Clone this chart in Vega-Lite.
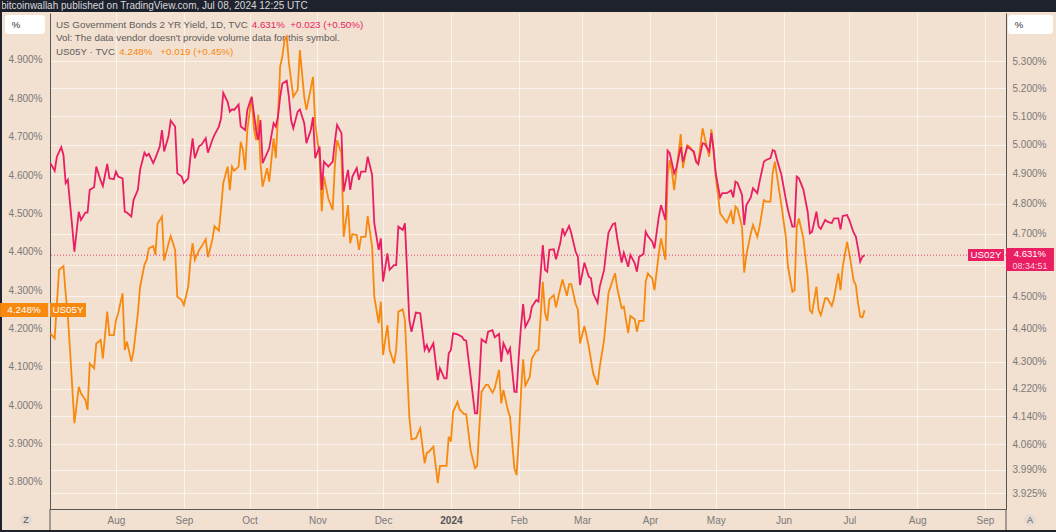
{
"$schema":"https://vega.github.io/schema/vega-lite/v6.json",
"width":956,"height":496,
"autosize":{"type":"none"},
"padding":{"left":50,"top":13,"right":50,"bottom":23},
"background":"#f2e0d0",
"config":{"view":{"stroke":null,"fill":"#f2e0d0"},"font":"Liberation Sans","text":{"font":"Liberation Sans"}},
"datasets":{"y":[
{"d":"2023-07-02","p":4.937,"o":4.188},{"d":"2023-07-04","p":4.911,"o":4.174},{"d":"2023-07-05","p":4.959,"o":4.266},{"d":"2023-07-06","o":4.353},{"d":"2023-07-07","p":4.992},{"d":"2023-07-08","p":4.965,"o":4.363},{"d":"2023-07-09","p":4.869,"o":4.292},{"d":"2023-07-10","p":4.880,"o":4.231},{"d":"2023-07-11","p":4.801,"o":4.144},{"d":"2023-07-12","p":4.724,"o":4.048},{"d":"2023-07-13","p":4.642,"o":3.953},{"d":"2023-07-15","p":4.773,"o":4.048},{"d":"2023-07-16","p":4.746,"o":4.031},{"d":"2023-07-18","p":4.770,"o":4.014},{"d":"2023-07-19","p":4.770,"o":3.988},{"d":"2023-07-20","p":4.846,"o":4.109},{"d":"2023-07-22","p":4.855,"o":4.096},{"d":"2023-07-23","p":4.925,"o":4.161},{"d":"2023-07-25","p":4.877,"o":4.170},{"d":"2023-07-26","p":4.859,"o":4.122},{"d":"2023-07-28","p":4.934,"o":4.244},{"d":"2023-07-29","p":4.885,"o":4.183},{"d":"2023-07-31","p":4.882,"o":4.183},
{"d":"2023-08-01","p":4.908,"o":4.222},{"d":"2023-08-02","p":4.891,"o":4.240},{"d":"2023-08-04","p":4.885,"o":4.292},{"d":"2023-08-05","p":4.773,"o":4.144},{"d":"2023-08-06","p":4.770,"o":4.166},{"d":"2023-08-08","p":4.757,"o":4.114},{"d":"2023-08-09","p":4.812,"o":4.140},{"d":"2023-08-11","p":4.846,"o":4.240},{"d":"2023-08-12","p":4.914,"o":4.309},{"d":"2023-08-14","p":4.973,"o":4.366},{"d":"2023-08-15","p":4.962,"o":4.379},{"d":"2023-08-16","p":4.969,"o":4.409},{"d":"2023-08-18","p":4.937,"o":4.415},{"d":"2023-08-19","p":4.954,"o":4.392},{"d":"2023-08-20","o":4.474},{"d":"2023-08-21","p":4.994},{"d":"2023-08-22","p":5.052,"o":4.492},{"d":"2023-08-23","p":4.977,"o":4.377},{"d":"2023-08-25","p":5.031,"o":4.422},{"d":"2023-08-26","p":5.085,"o":4.441},{"d":"2023-08-28","p":5.064,"o":4.405},{"d":"2023-08-29","p":4.902,"o":4.283},{"d":"2023-08-31","p":4.891,"o":4.274},
{"d":"2023-09-01","p":4.869,"o":4.261},{"d":"2023-09-03","p":4.885,"o":4.309},{"d":"2023-09-04","p":4.959,"o":4.379},{"d":"2023-09-05","p":5.023,"o":4.422},{"d":"2023-09-06","p":4.954,"o":4.379},{"d":"2023-09-08","p":4.996,"o":4.405},{"d":"2023-09-09","p":5.000,"o":4.413},{"d":"2023-09-11","p":5.023,"o":4.433},{"d":"2023-09-12","p":4.973,"o":4.386},{"d":"2023-09-14","p":5.017,"o":4.431},{"d":"2023-09-15","p":5.035,"o":4.467},{"d":"2023-09-17","p":5.064,"o":4.455},{"d":"2023-09-18","p":5.093,"o":4.513},{"d":"2023-09-19","p":5.184,"o":4.579},{"d":"2023-09-21","p":5.152,"o":4.622},{"d":"2023-09-22","p":5.117,"o":4.561},{"d":"2023-09-23","p":5.125,"o":4.622},{"d":"2023-09-24","p":5.123,"o":4.611},{"d":"2023-09-26","p":5.142,"o":4.622},{"d":"2023-09-27","p":5.064,"o":4.687},{"d":"2023-09-28","o":4.665},{"d":"2023-09-29","p":5.052,"o":4.613},{"d":"2023-09-30","p":5.123,"o":4.718},
{"d":"2023-10-02","p":5.170,"o":4.804},{"d":"2023-10-03","o":4.722},{"d":"2023-10-04","p":5.052,"o":4.691},{"d":"2023-10-05","p":5.017,"o":4.757},{"d":"2023-10-06","p":5.087,"o":4.631},{"d":"2023-10-07","p":4.937,"o":4.570},{"d":"2023-10-09","p":4.971,"o":4.618},{"d":"2023-10-10","p":4.988,"o":4.583},{"d":"2023-10-12","p":5.076,"o":4.696},{"d":"2023-10-13","p":5.064,"o":4.644},{"d":"2023-10-14","p":5.099,"o":4.752},{"d":"2023-10-15","p":5.170,"o":4.883},{"d":"2023-10-16","p":5.218,"o":4.909},{"d":"2023-10-17","o":4.952},{"d":"2023-10-18","p":5.228,"o":4.961},{"d":"2023-10-19","p":5.170,"o":4.891},{"d":"2023-10-20","p":5.087,"o":4.848},{"d":"2023-10-21","p":5.058,"o":4.804},{"d":"2023-10-23","p":5.117,"o":4.822},{"d":"2023-10-24","p":5.125,"o":4.926},{"d":"2023-10-26","p":5.076,"o":4.804},{"d":"2023-10-27","p":5.006,"o":4.770},{"d":"2023-10-29","p":5.052,"o":4.826},{"d":"2023-10-30","p":5.097,"o":4.856},{"d":"2023-10-31","p":4.954,"o":4.735},
{"d":"2023-11-02","p":4.994,"o":4.648},{"d":"2023-11-03","p":4.846,"o":4.505},{"d":"2023-11-04","p":4.942,"o":4.596},{"d":"2023-11-06","p":4.925,"o":4.539},{"d":"2023-11-08","p":4.942,"o":4.509},{"d":"2023-11-09","p":5.011,"o":4.626},{"d":"2023-11-10","p":5.070,"o":4.691},{"d":"2023-11-12","p":5.041,"o":4.657},{"d":"2023-11-13","p":4.840,"o":4.439},{"d":"2023-11-15","p":4.914,"o":4.522},{"d":"2023-11-16","p":4.846,"o":4.422},{"d":"2023-11-17","p":4.891,"o":4.446},{"d":"2023-11-19","p":4.920,"o":4.444},{"d":"2023-11-20","p":4.880,"o":4.405},{"d":"2023-11-21","p":4.908,"o":4.439},{"d":"2023-11-23","p":4.908,"o":4.439},{"d":"2023-11-24","p":4.959,"o":4.493},{"d":"2023-11-26","p":4.897,"o":4.413},{"d":"2023-11-27","p":4.735,"o":4.283},{"d":"2023-11-29","p":4.648,"o":4.214},{"d":"2023-11-30","p":4.685,"o":4.270},
{"d":"2023-12-01","p":4.547,"o":4.131},{"d":"2023-12-03","p":4.637,"o":4.209},{"d":"2023-12-04","p":4.584,"o":4.144},{"d":"2023-12-06","p":4.599,"o":4.109},{"d":"2023-12-07","p":4.599,"o":4.144},{"d":"2023-12-08","p":4.724,"o":4.244},{"d":"2023-12-10","p":4.713,"o":4.250},{"d":"2023-12-11","p":4.735,"o":4.222},{"d":"2023-12-13","p":4.427,"o":3.970},{"d":"2023-12-14","p":4.391,"o":3.911},{"d":"2023-12-16","p":4.450,"o":3.914},{"d":"2023-12-18","p":4.448,"o":3.940},{"d":"2023-12-20","p":4.336,"o":3.849},{"d":"2023-12-21","p":4.351,"o":3.876},{"d":"2023-12-22","p":4.331,"o":3.879},{"d":"2023-12-24","p":4.356,"o":3.892},{"d":"2023-12-26","p":4.246,"o":3.797},{"d":"2023-12-27","p":4.281,"o":3.842},{"d":"2023-12-29","p":4.251,"o":3.842},{"d":"2023-12-30","p":4.251,"o":3.842},{"d":"2023-12-31","p":4.326,"o":3.918},
{"d":"2024-01-01","p":4.336,"o":3.905},{"d":"2024-01-02","p":4.386,"o":3.983},{"d":"2024-01-04","p":4.383,"o":4.009},{"d":"2024-01-05","o":3.989},{"d":"2024-01-06","p":4.376},{"d":"2024-01-07","p":4.366,"o":3.977},{"d":"2024-01-08","p":4.364,"o":3.977},{"d":"2024-01-10","p":4.256,"o":3.883},{"d":"2024-01-12","p":4.149,"o":3.836},{"d":"2024-01-13","p":4.149,"o":3.842},{"d":"2024-01-14","p":4.246,"o":3.944},{"d":"2024-01-15","p":4.368,"o":4.035},{"d":"2024-01-17","p":4.358,"o":4.053},{"d":"2024-01-18","p":4.391,"o":4.053},{"d":"2024-01-20","p":4.396,"o":4.033},{"d":"2024-01-21","p":4.374,"o":4.044},{"d":"2024-01-23","p":4.384,"o":4.092},{"d":"2024-01-24","p":4.300,"o":4.005},{"d":"2024-01-25","p":4.356,"o":4.040},{"d":"2024-01-27","p":4.326,"o":3.988},{"d":"2024-01-28","p":4.341,"o":3.970},{"d":"2024-01-30","p":4.212,"o":3.836},{"d":"2024-01-31","p":4.211,"o":3.818},
{"d":"2024-02-01","p":4.315,"o":3.909},{"d":"2024-02-02","p":4.406,"o":4.031},{"d":"2024-02-03","p":4.476,"o":4.120},{"d":"2024-02-04","p":4.406,"o":4.051},{"d":"2024-02-06","p":4.432,"o":4.074},{"d":"2024-02-07","p":4.468,"o":4.122},{"d":"2024-02-09","p":4.489,"o":4.142},{"d":"2024-02-10","p":4.484,"o":4.144},{"d":"2024-02-11","p":4.573},{"d":"2024-02-12","p":4.664,"o":4.322},{"d":"2024-02-13","p":4.584,"o":4.240},{"d":"2024-02-14","p":4.578,"o":4.220},{"d":"2024-02-15","p":4.648,"o":4.276},{"d":"2024-02-17","p":4.650,"o":4.287},{"d":"2024-02-18","p":4.618,"o":4.255},{"d":"2024-02-20","p":4.671,"o":4.305},{"d":"2024-02-21","p":4.718,"o":4.328},{"d":"2024-02-22","p":4.696},{"d":"2024-02-23","o":4.285},{"d":"2024-02-24","p":4.726,"o":4.316},{"d":"2024-02-25","p":4.702,"o":4.316},{"d":"2024-02-27","p":4.642,"o":4.264},{"d":"2024-02-28","p":4.626,"o":4.250},{"d":"2024-02-29","p":4.536,"o":4.161},
{"d":"2024-03-02","p":4.607,"o":4.207},{"d":"2024-03-04","p":4.562,"o":4.153},{"d":"2024-03-05","p":4.557,"o":4.118},{"d":"2024-03-06","p":4.510,"o":4.083},{"d":"2024-03-08","p":4.480,"o":4.053},{"d":"2024-03-09","p":4.531,"o":4.100},{"d":"2024-03-11","p":4.584,"o":4.172},{"d":"2024-03-12","p":4.648,"o":4.231},{"d":"2024-03-13","p":4.704,"o":4.293},{"d":"2024-03-15","p":4.732,"o":4.328},{"d":"2024-03-16","p":4.735,"o":4.344},{"d":"2024-03-17","p":4.685,"o":4.305},{"d":"2024-03-19","p":4.607,"o":4.253},{"d":"2024-03-20","p":4.639,"o":4.257},{"d":"2024-03-22","p":4.594,"o":4.188},{"d":"2024-03-23","p":4.632,"o":4.233},{"d":"2024-03-25","p":4.605,"o":4.224},{"d":"2024-03-26","p":4.578,"o":4.192},{"d":"2024-03-27","p":4.626,"o":4.220},{"d":"2024-03-29","p":4.635,"o":4.220},{"d":"2024-03-30","p":4.707,"o":4.322},{"d":"2024-03-31","p":4.693,"o":4.344},
{"d":"2024-04-02","p":4.675,"o":4.331},{"d":"2024-04-03","p":4.653,"o":4.300},{"d":"2024-04-05","p":4.757,"o":4.396},{"d":"2024-04-06","p":4.795,"o":4.435},{"d":"2024-04-08","p":4.746,"o":4.379},{"d":"2024-04-09","p":4.980,"o":4.596},{"d":"2024-04-10","p":4.971,"o":4.639},{"d":"2024-04-11","p":4.937,"o":4.609},{"d":"2024-04-12","p":4.902,"o":4.561},{"d":"2024-04-13","p":4.920,"o":4.609},{"d":"2024-04-15","p":4.992,"o":4.707},{"d":"2024-04-16","p":4.942,"o":4.618},{"d":"2024-04-18","p":4.994,"o":4.678},{"d":"2024-04-19","p":4.988,"o":4.674},{"d":"2024-04-21","p":4.977,"o":4.658},{"d":"2024-04-22","p":4.942,"o":4.635},{"d":"2024-04-23","p":4.933,"o":4.631},{"d":"2024-04-25","p":5.006,"o":4.722},{"d":"2024-04-26","p":5.003,"o":4.696},{"d":"2024-04-28","p":4.977,"o":4.648},{"d":"2024-04-29","p":5.041,"o":4.719},{"d":"2024-04-30","p":4.982,"o":4.665},
{"d":"2024-05-01","p":4.902,"o":4.596},{"d":"2024-05-03","p":4.821,"o":4.500},{"d":"2024-05-04","p":4.835,"o":4.492},{"d":"2024-05-06","p":4.835,"o":4.476},{"d":"2024-05-08","p":4.844,"o":4.505},{"d":"2024-05-09","p":4.821,"o":4.472},{"d":"2024-05-10","p":4.874,"o":4.518},{"d":"2024-05-11","p":4.869,"o":4.511},{"d":"2024-05-13","p":4.829,"o":4.465},{"d":"2024-05-14","p":4.729,"o":4.346},{"d":"2024-05-15","p":4.795,"o":4.392},{"d":"2024-05-17","p":4.821,"o":4.448},{"d":"2024-05-18","p":4.852,"o":4.470},{"d":"2024-05-20","p":4.835,"o":4.439},{"d":"2024-05-21","p":4.874,"o":4.465},{"d":"2024-05-23","p":4.942,"o":4.535},{"d":"2024-05-24","p":4.948,"o":4.531},{"d":"2024-05-26","p":4.954,"o":4.531},{"d":"2024-05-27","p":4.982,"o":4.605},{"d":"2024-05-28","p":4.978,"o":4.635},{"d":"2024-05-29","p":4.948,"o":4.596},{"d":"2024-05-31","p":4.897,"o":4.522},
{"d":"2024-06-02","p":4.815,"o":4.439},{"d":"2024-06-03","p":4.779,"o":4.361},{"d":"2024-06-05","p":4.724,"o":4.296},{"d":"2024-06-06","p":4.724,"o":4.300},{"d":"2024-06-07","p":4.891,"o":4.465},{"d":"2024-06-08","p":4.885,"o":4.487},{"d":"2024-06-10","p":4.848,"o":4.435},{"d":"2024-06-12","p":4.773,"o":4.335},{"d":"2024-06-13","p":4.702,"o":4.248},{"d":"2024-06-14","p":4.707,"o":4.241},{"d":"2024-06-16","p":4.773,"o":4.309},{"d":"2024-06-17","p":4.724,"o":4.248},{"d":"2024-06-18","p":4.716,"o":4.235},{"d":"2024-06-20","p":4.746,"o":4.279},{"d":"2024-06-21","p":4.740,"o":4.279},{"d":"2024-06-23","p":4.735,"o":4.259},{"d":"2024-06-24","p":4.751,"o":4.279},{"d":"2024-06-26","p":4.751,"o":4.344},{"d":"2024-06-27","p":4.715,"o":4.300},{"d":"2024-06-28","p":4.759,"o":4.361},{"d":"2024-06-30","p":4.762,"o":4.426},
{"d":"2024-07-01","p":4.746,"o":4.396},{"d":"2024-07-03","p":4.704,"o":4.325},{"d":"2024-07-04","p":4.691,"o":4.313},{"d":"2024-07-05","p":4.653,"o":4.266},{"d":"2024-07-06","p":4.610,"o":4.231},{"d":"2024-07-07","p":4.626,"o":4.229},{"d":"2024-07-08","p":4.631,"o":4.248}
]},
"layer":[
{"layer":[
{"data":{"values":[{}]},"mark":{"type":"rect","color":"#1e222d"},"encoding":{"x":{"datum":{"year":2023,"month":6,"date":8,"utc":true},"type":"temporal"},"x2":{"datum":{"year":2024,"month":10,"date":5,"utc":true}},"y":{"datum":5.07,"type":"quantitative"},"y2":{"datum":5.0251}}},
{"data":{"values":[{}]},"mark":{"type":"text","text":"bitcoinwallah published on TradingView.com, Jul 08, 2024 12:25 UTC","color":"#d8d8dc","fontSize":10,"align":"left","baseline":"middle"},"encoding":{"x":{"datum":{"year":2023,"month":6,"date":9,"hours":11,"utc":true},"type":"temporal"},"y":{"datum":5.0408,"type":"quantitative"}}},
{"data":{"values":[{}]},"mark":{"type":"rect","color":"#1e222d"},"encoding":{"x":{"datum":{"year":2023,"month":6,"date":8,"utc":true},"type":"temporal"},"x2":{"datum":{"year":2023,"month":6,"date":9,"hours":22,"utc":true}},"y":{"datum":5.07,"type":"quantitative"},"y2":{"datum":3.66}}},
{"data":{"values":[{}]},"mark":{"type":"rect","color":"#1e222d"},"encoding":{"x":{"datum":{"year":2023,"month":6,"date":8,"utc":true},"type":"temporal"},"x2":{"datum":{"year":2024,"month":10,"date":5,"utc":true}},"y":{"datum":3.6748,"type":"quantitative"},"y2":{"datum":3.66}}},
{"data":{"values":[{}]},"mark":{"type":"rule","color":"#555555","strokeWidth":1},"encoding":{"x":{"datum":{"year":2023,"month":7,"date":1,"hours":20,"minutes":24,"utc":true},"type":"temporal"},"y":{"datum":3.7296,"type":"quantitative"},"y2":{"datum":3.6748}}},
{"data":{"values":[{}]},"mark":{"type":"rule","color":"#555555","strokeWidth":1},"encoding":{"x":{"datum":{"year":2024,"month":9,"date":10,"hours":14,"minutes":24,"utc":true},"type":"temporal"},"y":{"datum":3.7296,"type":"quantitative"},"y2":{"datum":3.6748}}},
{"data":{"values":[{}]},"mark":{"type":"text","text":"US Government Bonds 2 YR Yield, 1D, TVC","color":"#5d5d5d","fontSize":9.8,"align":"left","baseline":"middle"},"encoding":{"x":{"datum":{"year":2023,"month":7,"date":4,"hours":14,"utc":true},"type":"temporal"},"y":{"datum":4.991,"type":"quantitative"}}},
{"data":{"values":[{}]},"mark":{"type":"text","text":"4.631%","color":"#e91e63","fontSize":9.8,"align":"left","baseline":"middle"},"encoding":{"x":{"datum":{"year":2023,"month":10,"date":2,"utc":true},"type":"temporal"},"y":{"datum":4.991,"type":"quantitative"}}},
{"data":{"values":[{}]},"mark":{"type":"text","text":"+0.023 (+0.50%)","color":"#e91e63","fontSize":9.8,"align":"left","baseline":"middle"},"encoding":{"x":{"datum":{"year":2023,"month":10,"date":19,"hours":15,"utc":true},"type":"temporal"},"y":{"datum":4.991,"type":"quantitative"}}},
{"data":{"values":[{}]},"mark":{"type":"text","text":"Vol: The data vendor doesn't provide volume data for this symbol.","color":"#5d5d5d","fontSize":9.8,"align":"left","baseline":"middle"},"encoding":{"x":{"datum":{"year":2023,"month":7,"date":4,"hours":14,"utc":true},"type":"temporal"},"y":{"datum":4.957,"type":"quantitative"}}},
{"data":{"values":[{}]},"mark":{"type":"text","text":"US05Y · TVC","color":"#5d5d5d","fontSize":9.8,"align":"left","baseline":"middle"},"encoding":{"x":{"datum":{"year":2023,"month":7,"date":4,"hours":14,"utc":true},"type":"temporal"},"y":{"datum":4.920,"type":"quantitative"}}},
{"data":{"values":[{}]},"mark":{"type":"text","text":"4.248%","color":"#f7890f","fontSize":9.8,"align":"left","baseline":"middle"},"encoding":{"x":{"datum":{"year":2023,"month":8,"date":2,"hours":12,"utc":true},"type":"temporal"},"y":{"datum":4.920,"type":"quantitative"}}},
{"data":{"values":[{}]},"mark":{"type":"text","text":"+0.019 (+0.45%)","color":"#f7890f","fontSize":9.8,"align":"left","baseline":"middle"},"encoding":{"x":{"datum":{"year":2023,"month":8,"date":21,"hours":6,"utc":true},"type":"temporal"},"y":{"datum":4.920,"type":"quantitative"}}},
{"data":{"name":"y"},"transform":[{"filter":"isValid(datum.o)"}],"mark":{"type":"line","color":"#f7890f","strokeWidth":1.8},
 "encoding":{
  "x":{"field":"d","type":"temporal","scale":{"type":"utc","domain":[{"year":2023,"month":7,"date":1,"hours":20,"minutes":24,"utc":true},{"year":2024,"month":9,"date":10,"hours":14,"minutes":24,"utc":true}]},
   "axis":{"title":null,"values":[{"year":2023,"month":8,"date":1,"utc":true},{"year":2023,"month":9,"date":1,"utc":true},{"year":2023,"month":10,"date":1,"utc":true},{"year":2023,"month":11,"date":1,"utc":true},{"year":2023,"month":12,"date":1,"utc":true},{"year":2024,"month":1,"date":1,"utc":true},{"year":2024,"month":2,"date":1,"utc":true},{"year":2024,"month":3,"date":1,"utc":true},{"year":2024,"month":4,"date":1,"utc":true},{"year":2024,"month":5,"date":1,"utc":true},{"year":2024,"month":6,"date":1,"utc":true},{"year":2024,"month":7,"date":1,"utc":true},{"year":2024,"month":8,"date":1,"utc":true},{"year":2024,"month":9,"date":1,"utc":true}],
   "labelExpr":"utcmonth(datum.value)==0?utcFormat(datum.value,'%Y'):utcFormat(datum.value,'%b')",
   "labelFontWeight":{"condition":{"test":"utcmonth(datum.value)==0","value":"bold"},"value":"normal"},
   "labelColor":{"condition":{"test":"utcmonth(datum.value)==0","value":"#555555"},"value":"#7a7a7a"},
   "grid":true,"gridColor":"#fbf4ee","gridWidth":1,"ticks":false,"domain":true,"domainColor":"#555555","labelFontSize":10,"labelPadding":6,"labelOverlap":false,"labelFlush":false}},
  "y":{"field":"o","type":"quantitative","scale":{"domain":[3.7296,5.0225],"nice":false,"zero":false},
   "axis":{"orient":"left","title":null,"values":[3.8,3.9,4.0,4.1,4.2,4.3,4.4,4.5,4.6,4.7,4.8,4.9],"labelExpr":"format(datum.value,'.3f')+'%'","grid":false,"ticks":false,"domain":true,"domainColor":"#555555","labelColor":"#7a7a7a","labelFontSize":10,"labelPadding":8,"labelOverlap":false}}
 }},
{"data":{"values":[{}]},"mark":{"type":"rect","color":"#f7890f"},"encoding":{"x":{"datum":{"year":2023,"month":6,"date":9,"hours":1,"utc":true},"type":"temporal"},"x2":{"datum":{"year":2023,"month":7,"date":1,"utc":true}},"y":{"datum":4.2665,"type":"quantitative"},"y2":{"datum":4.230}}},
{"data":{"values":[{}]},"mark":{"type":"text","text":"4.248%","color":"#ffffff","fontSize":9.8,"align":"center","baseline":"middle"},"encoding":{"x":{"datum":{"year":2023,"month":6,"date":19,"hours":23,"utc":true},"type":"temporal"},"y":{"datum":4.248,"type":"quantitative"}}},
{"data":{"values":[{}]},"mark":{"type":"rect","color":"#f7890f"},"encoding":{"x":{"datum":{"year":2023,"month":7,"date":1,"hours":20,"minutes":24,"utc":true},"type":"temporal"},"x2":{"datum":{"year":2023,"month":7,"date":18,"hours":7,"utc":true}},"y":{"datum":4.2665,"type":"quantitative"},"y2":{"datum":4.230}}},
{"data":{"values":[{}]},"mark":{"type":"text","text":"US05Y","color":"#ffffff","fontSize":9.8,"align":"center","baseline":"middle"},"encoding":{"x":{"datum":{"year":2023,"month":7,"date":10,"hours":2,"utc":true},"type":"temporal"},"y":{"datum":4.248,"type":"quantitative"}}},
{"data":{"values":[{}]},"mark":{"type":"rect","color":"#ffffff","cornerRadius":3},"encoding":{"x":{"datum":{"year":2023,"month":6,"date":11,"hours":7,"utc":true},"type":"temporal"},"x2":{"datum":{"year":2023,"month":6,"date":29,"hours":13,"utc":true}},"y":{"datum":5.0173,"type":"quantitative"},"y2":{"datum":4.9678}}},
{"data":{"values":[{}]},"mark":{"type":"text","text":"%","color":"#333333","fontSize":9.5,"align":"center","baseline":"middle"},"encoding":{"x":{"datum":{"year":2023,"month":6,"date":16,"hours":7,"utc":true},"type":"temporal"},"y":{"datum":4.991,"type":"quantitative"}}},
{"data":{"values":[{}]},"mark":{"type":"rect","color":"#ffffff","cornerRadius":3},"encoding":{"x":{"datum":{"year":2024,"month":9,"date":11,"hours":12,"utc":true},"type":"temporal"},"x2":{"datum":{"year":2024,"month":10,"date":2,"hours":2,"utc":true}},"y":{"datum":5.0173,"type":"quantitative"},"y2":{"datum":4.9678}}},
{"data":{"values":[{}]},"mark":{"type":"text","text":"%","color":"#333333","fontSize":9.5,"align":"center","baseline":"middle"},"encoding":{"x":{"datum":{"year":2024,"month":9,"date":16,"hours":12,"utc":true},"type":"temporal"},"y":{"datum":4.991,"type":"quantitative"}}},
{"data":{"values":[{}]},"mark":{"type":"point","filled":true,"shape":"circle","size":150,"color":"#e4dad2","opacity":1},"encoding":{"x":{"datum":{"year":2023,"month":6,"date":20,"hours":21,"utc":true},"type":"temporal"},"y":{"datum":3.7008,"type":"quantitative"}}},
{"data":{"values":[{}]},"mark":{"type":"text","text":"Z","color":"#555555","fontSize":9,"align":"center","baseline":"middle"},"encoding":{"x":{"datum":{"year":2023,"month":6,"date":20,"hours":21,"utc":true},"type":"temporal"},"y":{"datum":3.7008,"type":"quantitative"}}},
{"data":{"values":[{}]},"mark":{"type":"point","filled":true,"shape":"circle","size":150,"color":"#e4dad2","opacity":1},"encoding":{"x":{"datum":{"year":2024,"month":9,"date":21,"hours":13,"utc":true},"type":"temporal"},"y":{"datum":3.7008,"type":"quantitative"}}},
{"data":{"values":[{}]},"mark":{"type":"text","text":"A","color":"#555555","fontSize":9,"align":"center","baseline":"middle"},"encoding":{"x":{"datum":{"year":2024,"month":9,"date":21,"hours":13,"utc":true},"type":"temporal"},"y":{"datum":3.7008,"type":"quantitative"}}}
]},
{"layer":[
{"data":{"values":[{}]},"mark":{"type":"rule","color":"#e91e63","strokeDash":[1,2],"strokeWidth":1,"opacity":0.8},"encoding":{"y":{"datum":4.631,"type":"quantitative"}}},
{"data":{"name":"y"},"transform":[{"filter":"isValid(datum.p)"}],"mark":{"type":"line","color":"#e91e63","strokeWidth":1.8},
 "encoding":{
  "x":{"field":"d","type":"temporal"},
  "y":{"field":"p","type":"quantitative","scale":{"type":"log","domain":[3.882,5.48],"nice":false},
   "axis":{"orient":"right","title":null,"values":[3.925,3.99,4.06,4.14,4.22,4.3,4.4,4.5,4.6,4.7,4.8,4.9,5.0,5.1,5.2,5.3],"labelExpr":"format(datum.value,'.3f')+'%'","grid":true,"gridColor":"#fbf4ee","gridWidth":1,"ticks":false,"domain":true,"domainColor":"#555555","labelColor":"#7a7a7a","labelFontSize":10,"labelPadding":6,"labelOverlap":false}}
 }},
{"data":{"values":[{}]},"mark":{"type":"rect","color":"#e91e63"},"encoding":{"x":{"datum":{"year":2024,"month":8,"date":24,"hours":6,"utc":true},"type":"temporal"},"x2":{"datum":{"year":2024,"month":9,"date":9,"hours":16,"utc":true}},"y":{"datum":4.651,"type":"quantitative"},"y2":{"datum":4.612}}},
{"data":{"values":[{}]},"mark":{"type":"text","text":"US02Y","color":"#ffffff","fontSize":9.8,"align":"center","baseline":"middle"},"encoding":{"x":{"datum":{"year":2024,"month":9,"date":1,"hours":11,"utc":true},"type":"temporal"},"y":{"datum":4.631,"type":"quantitative"}}},
{"data":{"values":[{}]},"mark":{"type":"rect","color":"#e91e63"},"encoding":{"x":{"datum":{"year":2024,"month":9,"date":10,"hours":14,"minutes":24,"utc":true},"type":"temporal"},"x2":{"datum":{"year":2024,"month":10,"date":2,"hours":12,"utc":true}},"y":{"datum":4.654,"type":"quantitative"},"y2":{"datum":4.580}}},
{"data":{"values":[{}]},"mark":{"type":"text","text":"4.631%","color":"#ffffff","fontSize":9.5,"align":"center","baseline":"middle"},"encoding":{"x":{"datum":{"year":2024,"month":9,"date":21,"hours":13,"utc":true},"type":"temporal"},"y":{"datum":4.635,"type":"quantitative"}}},
{"data":{"values":[{}]},"mark":{"type":"text","text":"08:34:51","color":"#fbd3df","fontSize":9,"align":"center","baseline":"middle"},"encoding":{"x":{"datum":{"year":2024,"month":9,"date":21,"hours":13,"utc":true},"type":"temporal"},"y":{"datum":4.596,"type":"quantitative"}}}
]}
],
"resolve":{"scale":{"y":"independent"}}
}
